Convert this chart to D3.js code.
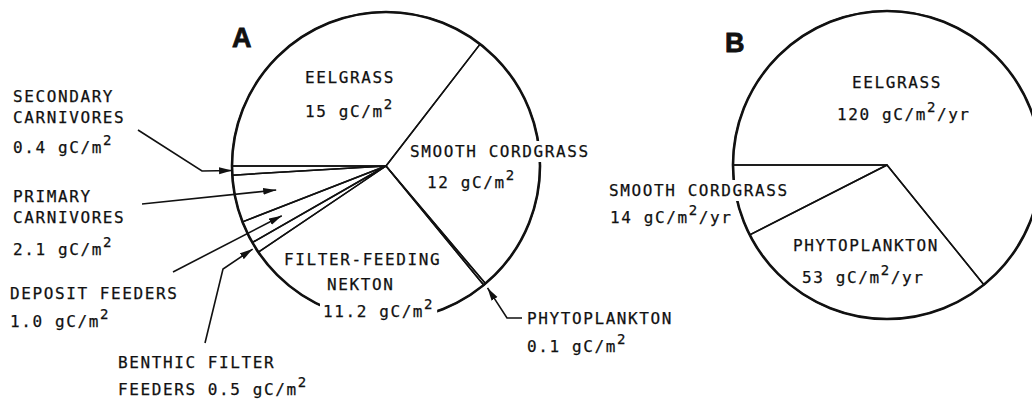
<!DOCTYPE html>
<html>
<head>
<meta charset="utf-8">
<script src="https://cdn.jsdelivr.net/npm/d3@7/dist/d3.min.js"></script>
<style>
  body { margin: 0; background: #fff; }
  svg text { font-family: 'DejaVu Sans Mono', monospace; font-size: 16px; letter-spacing: 1.6px; fill: #111; stroke: #111; stroke-width: 0.25px; }
  svg text.panel { font-family: 'Liberation Sans', Arial, sans-serif; font-weight: bold; font-size: 27px; letter-spacing: 0; stroke-width: 0.8px; }
</style>
</head>
<body>
<div id="chart"></div>
<script>
// A: standing crop (gC/m2), clockwise from 9 o'clock
const standingCats = ['EELGRASS', 'SMOOTH CORDGRASS', 'PHYTOPLANKTON', 'FILTER-FEEDING NEKTON',
                      'BENTHIC FILTER FEEDERS', 'DEPOSIT FEEDERS', 'PRIMARY CARNIVORES', 'SECONDARY CARNIVORES']
const standingVals = [15, 12, 0.1, 11.2, 0.5, 1.0, 2.1, 0.4]
const standingLabels = ['15', '12', '0.1', '11.2', '0.5', '1.0', '2.1', '0.4']

// B: production (gC/m2/yr)
const prodCats = ['EELGRASS', 'PHYTOPLANKTON', 'SMOOTH CORDGRASS']
const prodVals = [120, 53, 14]
const prodLabels = ['120', '53', '14']

const width = 1032, height = 402
const ink = '#111'

const svg = d3.select('#chart').append('svg')
  .attr('width', width)
  .attr('height', height)

svg.append('defs').append('marker')
  .attr('id', 'head')
  .attr('markerUnits', 'userSpaceOnUse')
  .attr('markerWidth', 13).attr('markerHeight', 8)
  .attr('refX', 13).attr('refY', 4)
  .attr('orient', 'auto')
  .append('path')
  .attr('d', 'M0,0.5 L13,4 L0,7.5 Z')
  .attr('fill', ink)

// text with optional superscript "2" in units
function valueParts(v, perYear) {
  let parts = [{t: v + ' gC/m'}, {t: '2', sup: true}]
  if (perYear) parts.push({t: '/yr'})
  return parts
}

function writeLine(g, x, y, parts, knockout) {
  let t = g.append('text').attr('x', x).attr('y', y)
  let raised = false
  parts.forEach(p => {
    let s = t.append('tspan').text(p.t)
    if (p.sup) { s.attr('dy', -8).attr('font-size', 14); raised = true }
    else if (raised) { s.attr('dy', 8); raised = false }
  })
  if (knockout) {
    let b = t.node().getBBox()
    g.insert('rect', 'text')
      .attr('x', b.x - 3).attr('y', b.y - 1)
      .attr('width', b.width + 6).attr('height', b.height + 2)
      .attr('fill', '#fff')
  }
  return t
}

function drawPie(cfg) {
  let g = svg.append('g')
  let pie = d3.pie().sort(null)
    .startAngle(-Math.PI / 2).endAngle(3 * Math.PI / 2)
  let slices = pie(cfg.vals)
  let arc = d3.arc().innerRadius(0).outerRadius(cfg.r)

  let pieG = g.append('g').attr('transform', `translate(${cfg.cx},${cfg.cy})`)
  pieG.selectAll('path.slice')
    .data(slices)
    .enter().append('path')
    .attr('class', 'slice')
    .attr('d', arc)
    .attr('fill', 'none')
    .attr('stroke', ink)
    .attr('stroke-width', 1.5)
    .attr('stroke-linejoin', 'round')
  pieG.append('circle')
    .attr('r', cfg.r)
    .attr('fill', 'none')
    .attr('stroke', ink)
    .attr('stroke-width', 2.6)

  // point at a slice's mid angle, at k * radius
  let at = (i, k) => {
    let a = (slices[i].startAngle + slices[i].endAngle) / 2
    return [cfg.cx + k * cfg.r * Math.sin(a), cfg.cy - k * cfg.r * Math.cos(a)]
  }

  cfg.cats.forEach((c, i) => {
    let lay = cfg.layout[c]
    if (!lay) return
    lay.lines.forEach((ln, j) => {
      let parts
      if (ln.indexOf('{v}') >= 0) {
        let pre = ln.replace('{v}', '')
        parts = valueParts(pre + cfg.labels[i], cfg.perYear)
      } else {
        parts = [{t: ln}]
      }
      writeLine(g, lay.x[j], lay.y[j], parts, lay.knockout)
    })
    if (lay.arrow) {
      let pts = lay.arrow.tail.concat([at(i, lay.arrow.k)])
      g.append('path')
        .attr('d', d3.line()(pts))
        .attr('fill', 'none')
        .attr('stroke', ink)
        .attr('stroke-width', 1.6)
        .attr('marker-end', 'url(#head)')
    }
  })

  g.append('text').attr('class', 'panel')
    .attr('x', cfg.panel.x).attr('y', cfg.panel.y).text(cfg.panel.t)
}

drawPie({
  cx: 386, cy: 166, r: 154,
  cats: standingCats, vals: standingVals, labels: standingLabels, perYear: false,
  panel: {t: 'A', x: 232, y: 47},
  layout: {
    'EELGRASS': {x: [305, 305], y: [83, 117], lines: ['EELGRASS', '{v}']},
    'SMOOTH CORDGRASS': {x: [410, 427], y: [157, 188], lines: ['SMOOTH CORDGRASS', '{v}'], knockout: true},
    'PHYTOPLANKTON': {x: [527, 527], y: [324, 352], lines: ['PHYTOPLANKTON', '{v}'],
                      arrow: {tail: [[522, 318], [507, 318]], k: 1.03}},
    'FILTER-FEEDING NEKTON': {x: [284, 327, 323], y: [265, 290, 317],
                              lines: ['FILTER-FEEDING', 'NEKTON', '{v}'], knockout: true},
    'BENTHIC FILTER FEEDERS': {x: [118, 118], y: [368, 395], lines: ['BENTHIC FILTER', 'FEEDERS {v}'],
                               arrow: {tail: [[205, 343], [223, 269]], k: 1.02}},
    'DEPOSIT FEEDERS': {x: [10, 10], y: [299, 327], lines: ['DEPOSIT FEEDERS', '{v}'],
                        arrow: {tail: [[173, 272]], k: 0.75}},
    'PRIMARY CARNIVORES': {x: [13, 13, 13], y: [202, 223, 255], lines: ['PRIMARY', 'CARNIVORES', '{v}'],
                           arrow: {tail: [[142, 204]], k: 0.73}},
    'SECONDARY CARNIVORES': {x: [13, 13, 13], y: [102, 123, 153], lines: ['SECONDARY', 'CARNIVORES', '{v}'],
                             arrow: {tail: [[138, 130], [202, 171]], k: 1.0}}
  }
})

drawPie({
  cx: 887, cy: 165, r: 154,
  cats: prodCats, vals: prodVals, labels: prodLabels, perYear: true,
  panel: {t: 'B', x: 725, y: 52},
  layout: {
    'EELGRASS': {x: [852, 837], y: [88, 120], lines: ['EELGRASS', '{v}']},
    'PHYTOPLANKTON': {x: [793, 802], y: [251, 283], lines: ['PHYTOPLANKTON', '{v}']},
    'SMOOTH CORDGRASS': {x: [609, 610], y: [196, 223], lines: ['SMOOTH CORDGRASS', '{v}'], knockout: true}
  }
})
</script>
</body>
</html>
